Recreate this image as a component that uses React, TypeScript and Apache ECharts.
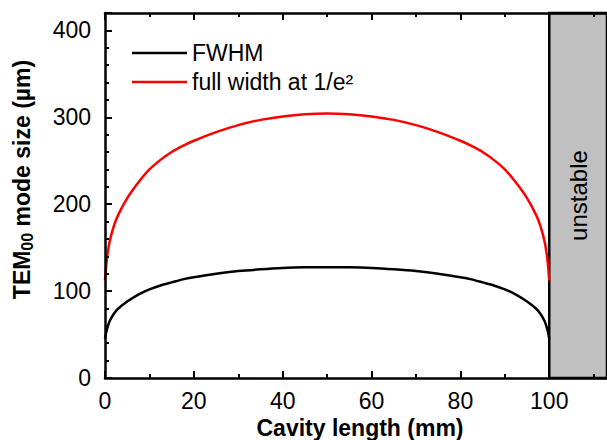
import React, { useEffect, useRef } from "react";
import * as echarts from "echarts";

const cavityLength = [0, 0.25, 0.5, 1, 2, 3, 5, 7.5, 10, 12.5, 15, 17.5, 20, 25, 30, 35, 40, 45, 50, 55, 60, 65, 70, 75, 80, 82.5, 85, 87.5, 90, 92.5, 95, 97, 98, 99, 99.5, 99.75, 100];
const fwhm = [45, 52, 57, 65, 74, 80, 88, 96, 102, 106.5, 110, 113.5, 116, 120, 123, 125, 126.5, 127.3, 127.5, 127.3, 126.5, 125, 123, 120, 116, 113.5, 110, 106.5, 102, 96, 88, 80, 74, 65, 57, 52, 45];
const fullWidth = [112, 128, 140, 156, 175, 188, 207, 225, 240, 251, 260, 267, 273, 283, 291, 297, 301, 303.5, 304.5, 303.5, 301, 297, 291, 283, 273, 267, 260, 251, 240, 225, 207, 188, 175, 156, 140, 128, 112];
const unstableFrom = 100;
const xMax = 113;
const yMax = 420;

const FONT = "Liberation Sans, Arial, sans-serif";

export default function App() {
  const ref = useRef<HTMLDivElement>(null);
  useEffect(() => {
    if (!ref.current) return;
    const chart = echarts.init(ref.current, undefined, { renderer: "svg" });
    const axisLine = { show: true, onZero: false, lineStyle: { color: "#000", width: 2.5 } };
    const axisTick = { show: true, inside: true, length: 7, lineStyle: { color: "#000", width: 2 } };
    const minorLine = { color: "#000", width: 2 };
    const xData = cavityLength.map((x, i) => [x, fwhm[i]]);
    const xData2 = cavityLength.map((x, i) => [x, fullWidth[i]]);
    chart.setOption({
      animation: false,
      backgroundColor: "#fff",
      grid: { left: 105, top: 13, bottom: 62, right: 0, containLabel: false, outerBoundsMode: "none" },
      legend: {
        orient: "vertical",
        left: 127,
        top: 36,
        icon: "rect",
        itemWidth: 55,
        itemHeight: 2.5,
        itemGap: 5,
        textStyle: { fontFamily: FONT, fontSize: 23, color: "#000", lineHeight: 24 },
        data: ["FWHM", "full width at 1/e²"],
      },
      xAxis: [
        {
          type: "value",
          min: 0,
          max: xMax,
          interval: 20,
          minorTick: { show: true, splitNumber: 2, length: 4, lineStyle: minorLine },
          axisLine,
          axisTick,
          splitLine: { show: false },
          z: 10,
          axisLabel: { showMaxLabel: false, color: "#000", fontFamily: FONT, fontSize: 23, margin: 11 },
          name: "Cavity length (mm)",
          nameLocation: "middle",
          nameGap: 34,
          nameTextStyle: { fontFamily: FONT, fontSize: 23, fontWeight: "bold", color: "#000", padding: [0, 0, 0, 8] },
        },
        {
          type: "value",
          position: "top",
          min: 0,
          max: xMax,
          interval: 20,
          minorTick: { show: true, splitNumber: 2, length: 4, lineStyle: minorLine },
          axisLine,
          axisTick,
          splitLine: { show: false },
          z: 10,
          axisLabel: { show: false },
        },
      ],
      yAxis: {
        type: "value",
        min: 0,
        max: yMax,
        interval: 100,
        minorTick: { show: true, splitNumber: 5, length: 4, lineStyle: minorLine },
        axisLine,
        axisTick,
        splitLine: { show: false },
        z: 10,
        axisLabel: { showMaxLabel: false, color: "#000", fontFamily: FONT, fontSize: 23, margin: 14 },
        name: "TEM{sub|00} mode size (µm)",
        nameLocation: "middle",
        nameGap: 70,
        nameTextStyle: {
          fontFamily: FONT,
          fontSize: 23,
          fontWeight: "bold",
          color: "#000",
          padding: [0, 0, 0, 32],
          rich: {
            sub: { fontFamily: FONT, fontSize: 16, fontWeight: "bold", color: "#000", padding: [10, 0, 0, 0] },
          },
        },
      },
      series: [
        {
          name: "FWHM",
          type: "line",
          data: xData,
          showSymbol: false,
          symbol: "none",
          smooth: 0.25,
          lineStyle: { color: "#000", width: 2.5 },
          itemStyle: { color: "#000" },
          z: 3,
          markArea: {
            silent: true,
            itemStyle: { color: "#c0c0c0", borderColor: "#000", borderWidth: 2.5 },
            label: {
              show: true,
              position: "inside",
              rotate: 90,
              formatter: "unstable",
              color: "#000",
              fontFamily: FONT,
              fontSize: 24,
            },
            data: [[{ xAxis: unstableFrom }, { xAxis: xMax }]],
          },
        },
        {
          name: "full width at 1/e²",
          type: "line",
          data: xData2,
          showSymbol: false,
          symbol: "none",
          smooth: 0.25,
          lineStyle: { color: "#ff0000", width: 2.5 },
          itemStyle: { color: "#ff0000" },
          z: 3,
        },
      ],
    });
    return () => chart.dispose();
  }, []);
  return <div ref={ref} style={{ width: 607, height: 440, position: "absolute", left: 0, top: 0 }} />;
}
